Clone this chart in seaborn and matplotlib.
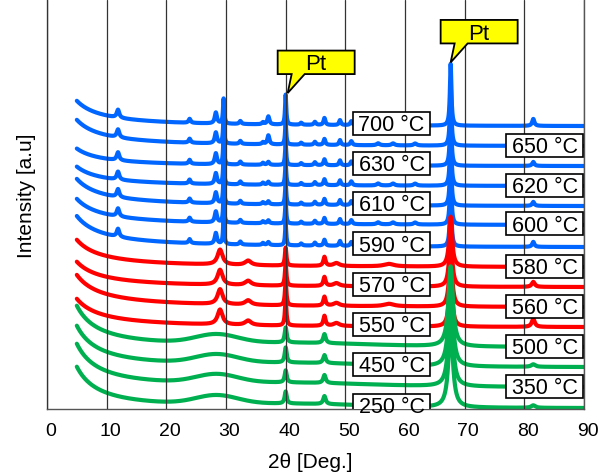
import numpy as np
import pandas as pd
import matplotlib
matplotlib.use("Agg")
import matplotlib.pyplot as plt
import seaborn as sns
from matplotlib.patches import Polygon, Rectangle
from matplotlib.transforms import ScaledTranslation

# ---------------- data ----------------
temps = [250, 350, 450, 500, 550, 560, 570, 580, 590, 600, 610, 620, 630, 650, 700]
phase = ["g", "g", "g", "g", "r", "r", "r", "r", "b", "b", "b", "b", "b", "b", "b"]
offsets = [1, 22, 42, 62, 82, 102, 122, 142, 162, 184, 203, 223, 243, 263, 283]
low_angle = [42, 44, 42, 42, 29, 33, 26, 28, 32, 27, 28, 20, 18, 27, 26]   # rise at 5 deg

# Pt reflections and their heights per pattern
pt_pos = [40.0, 46.5, 67.65, 81.5]
pt111_h = [12, 12, 15, 15, 26, 24, 22, 18, 22, 22, 22, 22, 22, 22, 30]
pt200_h = [8, 8, 8, 9, 10, 9, 9, 9, 6, 6, 6, 6, 6, 6, 7]
pt220_h = [80, 80, 80, 80, 55, 55, 52, 50, 62, 62, 62, 62, 62, 62, 62]
pt311_h = [2.5, 3, 2.5, 3, 8, 6, 5, 4, 5, 6, 4, 5, 4, 4, 7]
pt_hwhm = {"b": [0.12, 0.18, 0.15, 0.22], "r": [0.15, 0.22, 0.3, 0.3], "g": [0.2, 0.25, 0.45, 0.4]}

# other reflections of each phase: position, height, HWHM
blue_pos = [11.9, 23.9, 28.3, 29.6, 32.4, 36.2, 42.6, 44.9, 49.1, 51.0, 55.5, 58.0, 61.7]
blue_h = [8, 4, 11, 25, 3, 2, 2, 3, 5, 4, 2, 2, 2]
blue_w = [0.25, 0.2, 0.22, 0.12, 0.2, 0.2, 0.2, 0.2, 0.18, 0.2, 0.3, 0.3, 0.3]
peak371_h = [0, 0, 0, 0, 0, 0, 0, 0, 3, 3, 3, 3, 3, 9, 8]
red_pos = [29.0, 33.7, 48.5, 57.3]
red_h = [15, 4.5, 3, 2.5]
red_w = [0.5, 0.6, 0.6, 1.0]
green_hump = (28.4, 8.5, 3.5)     # centre, height, sigma
green_broad = (42.0, 3.0, 12.0)
bg_power = {"b": 1.2, "r": 1.25, "g": 1.4}
colors = {"b": "#0066FF", "r": "#FF0000", "g": "#00B050"}

# ---------------- build patterns ----------------
tt = np.arange(5.0, 90.0001, 0.02)


def lor(x, c, h, w):
    return h / (1 + ((x - c) / w) ** 2)


def gau(x, c, h, s):
    return h * np.exp(-((x - c) ** 2) / (2 * s * s))


rows = []
curves = {}
for i, t in enumerate(temps):
    ph = phase[i]
    p = bg_power[ph]
    bg = low_angle[i] * (5.0 / tt) ** p
    bg -= low_angle[i] * (5.0 / 90.0) ** p
    y = offsets[i] + bg
    if ph == "g":
        y = y + gau(tt, *green_hump) + gau(tt, *green_broad)
    if ph == "b":
        for c, h, w in zip(blue_pos, blue_h, blue_w):
            y = y + lor(tt, c, h, w)
        y = y + lor(tt, 37.1, peak371_h[i], 0.2)
    if ph == "r":
        for c, h, w in zip(red_pos, red_h, red_w):
            y = y + lor(tt, c, h, w)
    for c, h, w in zip(pt_pos, [pt111_h[i], pt200_h[i], pt220_h[i], pt311_h[i]], pt_hwhm[ph]):
        y = y + lor(tt, c, h, w)
    curves[t] = y
    rows.append(pd.DataFrame({"tt": tt, "I": y, "temp": t}))
df = pd.concat(rows, ignore_index=True)

# ---------------- plot ----------------
sns.set_style("white")
plt.rcParams["font.family"] = ["Liberation Sans", "DejaVu Sans"]
plt.rcParams["text.color"] = "black"
plt.rcParams["axes.labelcolor"] = "black"
plt.rcParams["xtick.color"] = "black"

fig = plt.figure(figsize=(6.13, 4.76), dpi=100)
ax = fig.add_axes([47 / 613, 1 - 409 / 476, 537 / 613, 409 / 476])

palette = {t: colors[phase[i]] for i, t in enumerate(temps)}
sns.lineplot(data=df, x="tt", y="I", hue="temp", hue_order=temps[::-1], palette=palette,
             estimator=None, sort=False, legend=False, lw=3.0, ax=ax)

ax.set_xlim(0, 90)
ax.set_ylim(0, 409)
ax.set_xticks(range(0, 91, 10))
ax.set_yticks([])
ax.set_axisbelow(False)
ax.xaxis.grid(True, color="#333333", lw=0.9)
for s in ["left", "bottom", "right"]:
    ax.spines[s].set_color("#555555")
    ax.spines[s].set_linewidth(1.0)
ax.spines["top"].set_visible(False)
ax.tick_params(axis="x", length=0, pad=10, labelsize=14)
for lab in ax.get_xticklabels():
    lab.set_transform(lab.get_transform() + ScaledTranslation(3.5 / 100, 0, fig.dpi_scale_trans))

ax.set_xlabel("2θ [Deg.]", fontsize=15)
ax.xaxis.set_label_coords(0.49, -0.13)
ax.xaxis.label.set_va("center")
ax.set_ylabel("Intensity [a.u]", fontsize=15)
ax.yaxis.set_label_coords(-0.039, 0.521)
ax.yaxis.label.set_va("center")

# temperature labels
sx = 90.0 / 537.0
for i, t in enumerate(temps):
    if i % 2 == 0:
        x0, dy = 51.3, 3
    else:
        x0, dy = 76.95, 1
    yc = offsets[i] + dy
    ax.add_patch(Rectangle((x0, yc - 11.5), 77 * sx, 23, facecolor="white",
                           edgecolor="black", lw=1.2, zorder=5))
    ax.text(x0 + 38.5 * sx, yc, f"{t} °C", ha="center", va="center_baseline",
            fontsize=15.5, zorder=6)

# Pt callouts on the top pattern
top = curves[temps[-1]]
shape = [(0, 0), (17, 19), (67, 19), (67, 42.5), (-10, 42.5), (-10, 19), (4, 19)]
for c, dxpx in [(40.0, 2), (67.65, 0)]:
    m = (tt > c - 0.5) & (tt < c + 0.5)
    tx = c + dxpx * sx
    ty = top[m].max() + 1.5
    verts = [(tx + dx * sx, ty + dy) for dx, dy in shape]
    ax.add_patch(Polygon(verts, closed=True, facecolor="#FFFF00", edgecolor="black",
                         lw=1.3, zorder=7))
    ax.text(tx + 28.5 * sx, ty + 30.75, "Pt", ha="center", va="center_baseline",
            fontsize=16, zorder=8)

fig.savefig("out.png", dpi=100)
